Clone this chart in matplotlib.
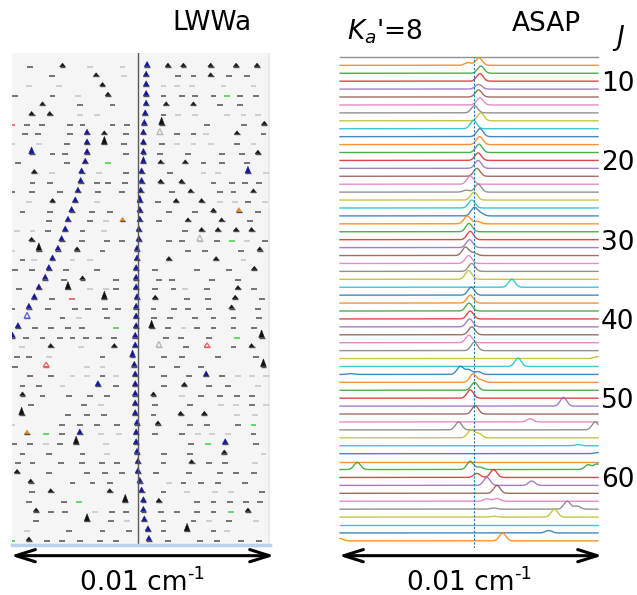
import numpy as np
import matplotlib.pyplot as plt
from matplotlib.patches import FancyArrowPatch

# ---- LWWa stick spectrum, one list per row (top to bottom) ----
# (offset from line centre in MHz, kind)
# kinds: d dark dash, l light dash, t weak peak, T strong peak, b/B assigned (blue) peak,
#        o open grey, ob open blue, or open red, g green dash, r red dash, O orange peak
lwwa_rows = [
    [(-119,'d'),(-83,'t'),(-53,'l'),(-17,'l'),(10,'b'),(33,'t'),(50,'t'),(80,'t'),(108,'t'),(131,'t')],
    [(-95,'d'),(-46,'t'),(-15,'l'),(9,'b'),(44,'d'),(61,'d'),(80,'t'),(100,'d'),(120,'d')],
    [(-120,'l'),(-87,'l'),(-39,'t'),(9,'b'),(28,'l'),(43,'l'),(59,'l'),(94,'l'),(127,'l')],
    [(-135,'d'),(-94,'d'),(-66,'l'),(-33,'t'),(9,'b'),(28,'d'),(48,'d'),(63,'d'),(83,'d'),(98,'g'),(112,'d'),(130,'d')],
    [(-105,'t'),(-64,'d'),(-28,'d'),(9,'b'),(31,'t'),(61,'t'),(90,'d'),(112,'d')],
    [(-117,'t'),(-97,'t'),(-64,'l'),(-45,'l'),(8,'b'),(28,'d'),(44,'l'),(63,'l'),(98,'l'),(116,'l'),(132,'l')],
    [(-138,'r'),(-122,'d'),(-106,'d'),(-75,'d'),(-61,'d'),(-28,'d'),(-12,'d'),(7,'b'),(26,'T'),(76,'d'),(117,'d'),(139,'t')],
    [(-124,'d'),(-110,'d'),(-75,'d'),(-56,'b'),(-37,'t'),(-13,'d'),(6,'b'),(24,'o'),(43,'d'),(61,'d'),(75,'l'),(109,'t'),(138,'d')],
    [(-139,'l'),(-109,'l'),(-78,'d'),(-56,'b'),(-37,'T'),(-15,'d'),(6,'b'),(26,'d'),(43,'l'),(61,'l'),(80,'l'),(109,'d'),(127,'l')],
    [(-117,'B'),(-94,'d'),(-80,'d'),(-56,'b'),(-13,'d'),(6,'b'),(24,'d'),(55,'d'),(92,'d'),(114,'d'),(132,'t')],
    [(-132,'d'),(-78,'d'),(-58,'b'),(-33,'g'),(6,'B'),(25,'t'),(52,'t'),(72,'d'),(92,'d'),(120,'d')],
    [(-114,'t'),(-95,'l'),(-62,'b'),(-43,'l'),(-13,'d'),(4,'b'),(35,'d'),(72,'l'),(88,'l'),(121,'B'),(141,'l')],
    [(-116,'d'),(-97,'d'),(-63,'b'),(-45,'d'),(-33,'d'),(-14,'d'),(4,'b'),(25,'t'),(48,'t'),(83,'d'),(103,'d'),(118,'d'),(133,'d')],
    [(-139,'d'),(-117,'d'),(-86,'d'),(-66,'b'),(-44,'d'),(-18,'d'),(3,'b'),(37,'d'),(58,'t'),(90,'d'),(105,'d'),(127,'t')],
    [(-120,'l'),(-94,'t'),(-69,'b'),(-45,'l'),(2,'B'),(22,'d'),(42,'t'),(70,'t'),(90,'l'),(107,'l'),(121,'d'),(140,'l')],
    [(-127,'d'),(-97,'d'),(-73,'b'),(-51,'d'),(-31,'d'),(2,'b'),(34,'d'),(63,'d'),(83,'t'),(111,'O'),(132,'d')],
    [(-98,'d'),(-77,'b'),(-53,'d'),(-35,'l'),(-17,'O'),(2,'b'),(23,'d'),(55,'t'),(92,'t'),(123,'d')],
    [(-133,'l'),(-116,'l'),(-99,'d'),(-80,'b'),(-61,'d'),(-37,'l'),(1,'b'),(52,'d'),(70,'t'),(88,'t'),(108,'t'),(125,'t')],
    [(-117,'t'),(-84,'b'),(-62,'d'),(-34,'d'),(-18,'d'),(1,'b'),(34,'d'),(48,'d'),(68,'o'),(87,'d'),(103,'g'),(120,'l'),(140,'d')],
    [(-138,'l'),(-109,'T'),(-88,'b'),(-67,'t'),(-39,'d'),(-1,'b'),(55,'d'),(74,'d'),(113,'d'),(134,'t')],
    [(-127,'d'),(-114,'l'),(-94,'b'),(-72,'l'),(-53,'l'),(-1,'b'),(34,'t'),(86,'t'),(116,'l')],
    [(-135,'d'),(-117,'d'),(-98,'b'),(-79,'d'),(-45,'d'),(-2,'b'),(19,'d'),(65,'d'),(100,'d'),(128,'t')],
    [(-102,'b'),(-81,'d'),(-61,'t'),(-24,'d'),(-2,'b'),(23,'d'),(37,'d'),(81,'d'),(110,'d')],
    [(-131,'d'),(-109,'b'),(-77,'T'),(-53,'l'),(-35,'l'),(-24,'d'),(-2,'b'),(19,'d'),(39,'d'),(52,'l'),(76,'d'),(110,'t'),(128,'d')],
    [(-114,'b'),(-95,'d'),(-73,'r'),(-37,'T'),(-1,'b'),(19,'t'),(54,'d'),(77,'d'),(107,'t'),(136,'d')],
    [(-138,'d'),(-120,'b'),(-99,'d'),(-69,'d'),(-55,'d'),(-36,'d'),(-22,'d'),(-2,'b'),(17,'d'),(40,'d'),(55,'d'),(78,'d'),(103,'t'),(132,'d')],
    [(-122,'ob'),(-83,'d'),(-65,'l'),(-34,'d'),(-2,'b'),(18,'d'),(35,'d'),(63,'d'),(83,'d'),(105,'d'),(133,'d')],
    [(-132,'b'),(-113,'d'),(-96,'d'),(-77,'d'),(-62,'d'),(-24,'g'),(-2,'b'),(15,'T'),(33,'d'),(50,'l'),(65,'d'),(83,'d'),(105,'d'),(128,'d')],
    [(-138,'b'),(-123,'d'),(-105,'d'),(-86,'d'),(-72,'d'),(-57,'d'),(-43,'d'),(-26,'d'),(-3,'b'),(31,'d'),(47,'d'),(78,'d'),(109,'g'),(136,'T')],
    [(-128,'l'),(-96,'t'),(-63,'l'),(-26,'t'),(-3,'b'),(23,'o'),(53,'d'),(76,'or'),(105,'d'),(125,'t')],
    [(-133,'d'),(-120,'d'),(-98,'l'),(-39,'d'),(-6,'B'),(29,'d'),(48,'d'),(88,'d'),(130,'d')],
    [(-135,'d'),(-101,'or'),(-56,'l'),(-39,'l'),(-4,'b'),(15,'d'),(43,'d'),(69,'d'),(138,'T')],
    [(-119,'d'),(-96,'d'),(-72,'l'),(-56,'l'),(-39,'d'),(-24,'l'),(-3,'b'),(29,'d'),(56,'d'),(75,'b'),(92,'d'),(110,'l'),(125,'l'),(141,'l')],
    [(-127,'d'),(-109,'d'),(-83,'l'),(-44,'b'),(-24,'d'),(-3,'b'),(29,'d'),(51,'t'),(78,'d'),(99,'d'),(132,'l')],
    [(-127,'t'),(-105,'d'),(-76,'d'),(-53,'d'),(-34,'d'),(-3,'b'),(17,'t'),(48,'l'),(69,'d'),(90,'d'),(109,'d'),(125,'d')],
    [(-118,'d'),(-59,'d'),(-41,'l'),(-3,'b'),(19,'d'),(57,'d'),(91,'l'),(108,'l'),(125,'d'),(141,'l')],
    [(-128,'T'),(-77,'d'),(-56,'d'),(-37,'d'),(-3,'b'),(17,'d'),(47,'t'),(73,'t'),(109,'l'),(129,'l')],
    [(-138,'l'),(-84,'d'),(-64,'d'),(-45,'d'),(-23,'d'),(-1,'b'),(22,'t'),(57,'d'),(76,'d'),(110,'d'),(127,'g')],
    [(-122,'O'),(-101,'g'),(-84,'d'),(-64,'b'),(-41,'l'),(-21,'l'),(-2,'b'),(19,'d'),(48,'d'),(66,'l'),(81,'l'),(99,'l'),(127,'d')],
    [(-136,'d'),(-119,'d'),(-101,'l'),(-86,'d'),(-68,'T'),(-35,'l'),(-2,'b'),(58,'d'),(77,'g'),(96,'b'),(130,'d')],
    [(-127,'d'),(-98,'d'),(-61,'d'),(-34,'l'),(-1,'b'),(29,'d'),(57,'d'),(95,'t'),(138,'l')],
    [(-132,'d'),(-116,'d'),(-85,'d'),(-62,'d'),(-40,'d'),(-23,'d'),(0,'b'),(28,'d'),(59,'t'),(78,'d'),(96,'d'),(129,'l')],
    [(-133,'t'),(-98,'d'),(-56,'d'),(-36,'d'),(-18,'d'),(0,'b'),(20,'d'),(56,'d'),(90,'d'),(108,'d'),(128,'d')],
    [(-118,'t'),(-72,'d'),(-50,'d'),(-31,'d'),(2,'b'),(34,'l'),(50,'d'),(69,'d'),(88,'d'),(118,'d')],
    [(-117,'d'),(-96,'t'),(-31,'t'),(4,'b'),(28,'d'),(54,'l'),(85,'l'),(102,'l'),(136,'d')],
    [(-120,'d'),(-81,'d'),(-65,'g'),(-14,'T'),(6,'b'),(23,'t'),(65,'d'),(83,'d'),(101,'d'),(119,'d'),(134,'d')],
    [(-112,'t'),(-96,'d'),(-80,'d'),(-47,'l'),(-29,'d'),(-13,'d'),(6,'b'),(25,'d'),(43,'d'),(65,'d'),(83,'d'),(102,'g'),(121,'t')],
    [(-112,'d'),(-56,'T'),(-30,'d'),(-12,'l'),(7,'b'),(28,'d'),(61,'d'),(78,'l'),(100,'d'),(130,'l')],
    [(-122,'l'),(-76,'d'),(-39,'d'),(-10,'d'),(11,'b'),(28,'d'),(54,'T'),(83,'d'),(98,'l')],
    [(-138,'g'),(-120,'t'),(-100,'d'),(-84,'d'),(-64,'d'),(-42,'d'),(-24,'d'),(12,'b'),(33,'d'),(68,'d'),(87,'d'),(113,'d'),(133,'d')],
]

# ---- ASAP traces: J and (peak offset MHz, relative height) ----
asap_J = list(range(7, 69))
asap_peaks = [
    [],
    [(-6, 0.35), (6, 0.95)], [(8, 0.9)], [(7, 0.95)], [(5.5, 0.6)], [(5.5, 0.9)],
    [(7, 0.9)], [(1, 0.9)], [(8, 1.0)], [(0, 1.05)], [(7, 1.0)],
    [(6.6, 1.0)], [(6, 1.05)], [(5, 0.95)], [(5, 1.0)], [(3.7, 1.0)],
    [(-3.7, 1.05)], [(-8, 0.25), (5, 1.0)], [(0.5, 1.0)], [(-2, 1.0)], [(0.7, 1.05), (8, 0.3)],
    [(-7, 1.0), (4, 0.3)], [(-5, 1.05)], [(-3.7, 1.05)], [(-4.4, 1.0)], [(-9, 1.05), (0, 0.35)],
    [(-5.5, 1.0)], [(-2, 1.0)], [(-5.5, 1.1)], [(42, 1.0)], [(-2.6, 1.0)],
    [(-3.7, 1.0)], [(-5, 1.0)], [(-3.7, 1.0)], [(-4.4, 1.0)], [(-2, 1.0)],
    [(-5, 0.95)], [(0.7, 1.05)], [(136, 0.25)], [(49, 1.05)],
    [(-135, 0.1), (-14.7, 1.0), (-5.5, 0.6), (4.8, 0.35)],
    [(-0.7, 1.05), (8, 0.3)], [(1.1, 1.0)], [(-3.7, 1.05)], [(99, 1.1)], [(1.8, 1.05)],
    [(62, 0.4)], [(-16.5, 1.0), (134, 1.0)], [(-3, 1.0), (5.5, 0.55)], [(115, 0.15)], [(137, 0.15)],
    [], [(-128, 0.9), (-3.7, 1.05), (7, 0.3), (126, 0.6), (136, 0.7)],
    [(3.7, 0.5), (22, 1.0)], [(14.7, 1.0), (64, 0.55)], [(25.7, 1.0)],
    [(14.7, 0.3), (25.7, 0.35)], [(22, 0.15), (103, 1.0), (114, 0.4)], [(22, 0.1), (89, 1.0)],
    [], [(82.6, 0.3)], [(-147, 0.3), (32, 1.0)],
]
J_ticks = [10, 20, 30, 40, 50, 60]

# kind -> (colour, peak height in rows, filled)
styles = {
    'd': ('#505050', 0, True), 'l': ('#c4c4c4', 0, True),
    'g': ('#3ad23a', 0, True), 'r': ('#e85050', 0, True),
    't': ('#151515', 0.38, True), 'T': ('#111111', 0.8, True),
    'b': ('#16169a', 0.55, True), 'B': ('#16169a', 0.72, True),
    'O': ('#e88a2a', 0.45, True), 'o': ('#b8b8b8', 0.6, False),
    'ob': ('#5a5ad8', 0.6, False), 'or': ('#e86060', 0.45, False),
}

fig = plt.figure(figsize=(6.37, 5.95), dpi=100)

# ---- left panel ----
ax1 = fig.add_axes([0.0188, 0.0832, 0.4050, 0.8282])
ax1.set_facecolor('#f5f5f5')
ax1.axvspan(142.5, 145.2, color='#eaeaea', lw=0)
ax1.axvline(0, color='#5a5a5a', lw=1)
hw_dash, hw_tri = 3.2, 3.2
for i, row in enumerate(lwwa_rows):
    for x, kind in row:
        col, h, filled = styles[kind]
        if h == 0:
            ax1.plot([x - hw_dash, x + hw_dash], [i, i], color=col, lw=1.1,
                     solid_capstyle='butt')
        else:
            ax1.plot([x - hw_dash, x + hw_dash], [i, i], color='#505050' if filled else col,
                     lw=1.0, solid_capstyle='butt')
            tx = [x - hw_tri, x + hw_tri, x]
            ty = [i, i, i - h]
            if filled:
                ax1.fill(tx, ty, color=col, lw=0.3)
            else:
                ax1.fill(tx, ty, facecolor='none', edgecolor=col, lw=0.9)
ax1.set_xlim(-138.6, 145.2)
ax1.set_ylim(49.5, -1.45)
ax1.set_xticks([])
ax1.set_yticks([])
for s in ['top', 'left', 'right']:
    ax1.spines[s].set_visible(False)
ax1.spines['bottom'].set_color('#bcd2ea')
ax1.spines['bottom'].set_linewidth(2.5)

# ---- right panel ----
ax2 = fig.add_axes([0.5338, 0.0790, 0.4050, 0.8252])
xs = np.linspace(-147, 137, 900)
sig = 3.6
for k, (J, peaks) in enumerate(zip(asap_J, asap_peaks)):
    prof = np.zeros_like(xs)
    for pos, amp in peaks:
        prof += amp * np.exp(-0.5 * ((xs - pos) / sig) ** 2)
    col = 'C7' if k == 0 else 'C%d' % (k % 10)
    ax2.plot(xs, J - prof, color=col, lw=1.0, alpha=0.85, clip_on=False)
ax2.axvline(0, color='C0', lw=0.8, ls=(0, (2, 1.5)))
ax2.set_xlim(-147, 137)
ax2.set_ylim(68.9, 6.95)
ax2.set_xticks([])
ax2.yaxis.tick_right()
ax2.set_yticks(J_ticks)
ax2.tick_params(axis='y', length=0, labelsize=19, pad=2)
for s in ax2.spines.values():
    s.set_visible(False)

# ---- labels and scale arrows ----
fig.text(0.333, 0.961, 'LWWa', fontsize=19, ha='center', va='center')
fig.text(0.857, 0.959, 'ASAP', fontsize=19, ha='center', va='center')
fig.text(0.544, 0.934, "$K_a$'=8", fontsize=19, ha='left', va='baseline')
fig.text(0.972, 0.936, '$J$', fontsize=19, ha='center', va='center')

for x0, x1, xt in [(0.0126, 0.4349, 0.1256), (0.5275, 0.9498, 0.6389)]:
    fig.patches.append(FancyArrowPatch(
        (x0, 0.0661), (x1, 0.0661), transform=fig.transFigure,
        arrowstyle='<->,head_length=0.7,head_width=0.22', mutation_scale=20,
        lw=2.2, color='black'))
    fig.text(xt, 0.0084, '0.01 cm', fontsize=19, ha='left', va='baseline')
    fig.text(xt + 0.168, 0.027, '-1', fontsize=13, ha='left', va='baseline')

fig.savefig('out.png', dpi=100)
